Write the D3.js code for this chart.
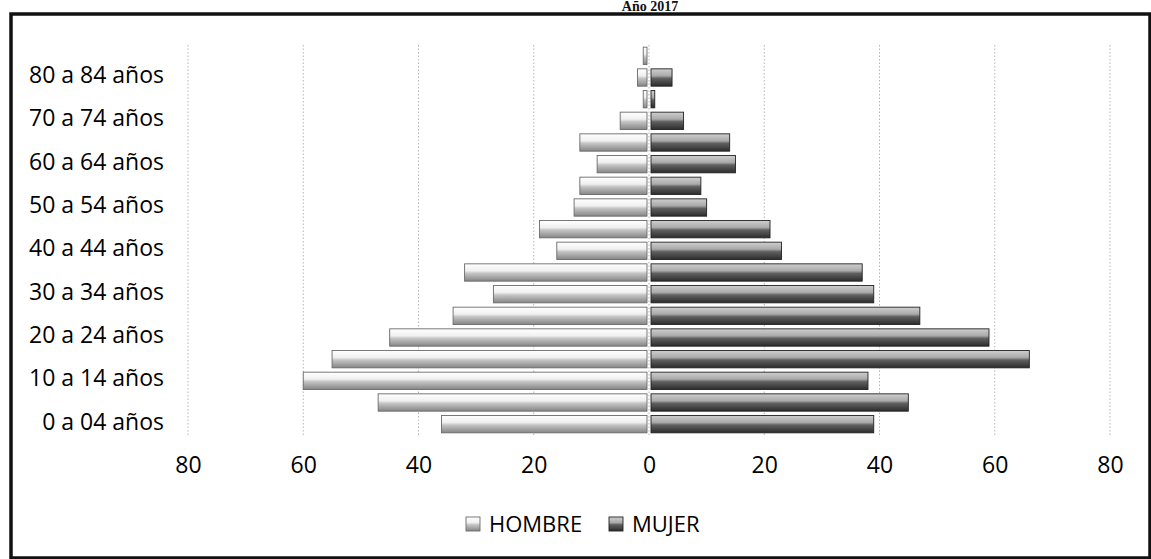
<!DOCTYPE html>
<html><head><meta charset="utf-8">
<script src="https://cdn.jsdelivr.net/npm/d3@7"></script>
<style>body{margin:0;background:#fff}svg{display:block}</style>
</head><body>
<svg id="c" width="1151" height="559"></svg>
<script>
const title = "Año 2017";
const categories = ["0 a 04 años","05 a 09 años","10 a 14 años","15 a 19 años","20 a 24 años","25 a 29 años","30 a 34 años","35 a 39 años","40 a 44 años","45 a 49 años","50 a 54 años","55 a 59 años","60 a 64 años","65 a 69 años","70 a 74 años","75 a 79 años","80 a 84 años","85 a más años"];
const shownLabels = ["0 a 04 años","10 a 14 años","20 a 24 años","30 a 34 años","40 a 44 años","50 a 54 años","60 a 64 años","70 a 74 años","80 a 84 años"];
const hombre = [36,47,60,55,45,34,27,32,16,19,13,12,9,12,5,1,2,1];
const mujer  = [39,45,38,66,59,47,39,37,23,21,10,9,15,14,6,1,4,0];
const ticks = [-80,-60,-40,-20,0,20,40,60,80];
const seriesNames = ["HOMBRE","MUJER"];

const svg = d3.select("#c");
const defs = svg.append("defs");
function grad(id, stops){
  const g = defs.append("linearGradient").attr("id",id).attr("x1",0).attr("y1",0).attr("x2",0).attr("y2",1);
  stops.forEach(s=>g.append("stop").attr("offset",s[0]).attr("stop-color",s[1]));
}
grad("gH",[[0,"#ffffff"],[0.4,"#f0f0f0"],[0.55,"#c4c4c4"],[1,"#858585"]]);
grad("gM",[[0,"#cfcfcf"],[0.4,"#aaaaaa"],[0.55,"#606060"],[1,"#2c2c2c"]]);

// frame
svg.append("rect").attr("x",11).attr("y",14).attr("width",1139).attr("height",544)
  .attr("fill","none").attr("stroke","#111").attr("stroke-width",3.5);
svg.append("text").attr("x",650).attr("y",11).attr("text-anchor","middle")
  .attr("font-family","Liberation Serif, serif").attr("font-weight","bold").attr("font-size",14)
  .attr("fill","#111").text(title);

const x = d3.scaleLinear().domain([-80,80]).range([188,1110]);
const y = d3.scaleBand().domain(categories).range([435,45]).paddingInner(0.2).paddingOuter(0.1);

// gridlines
svg.append("g").selectAll("line").data(ticks).join("line")
  .attr("x1",d=>x(d)).attr("x2",d=>x(d)).attr("y1",45).attr("y2",437)
  .attr("stroke","#b5b5b5").attr("stroke-width",1).attr("stroke-dasharray","1.5,2");

// bars
const bh = y.bandwidth();
svg.append("g").selectAll("rect").data(categories).join("rect")
  .attr("x",(d,i)=>x(-hombre[i])).attr("y",d=>y(d))
  .attr("width",(d,i)=>Math.max(0,x(0)-2-x(-hombre[i]))).attr("height",bh)
  .attr("fill","url(#gH)").attr("stroke","#6a6a6a").attr("stroke-width",0.9);
svg.append("g").selectAll("rect").data(categories).join("rect")
  .attr("x",x(0)+2).attr("y",d=>y(d))
  .attr("width",(d,i)=>Math.max(0,x(mujer[i])-x(0)-2)).attr("height",bh)
  .attr("fill","url(#gM)").attr("stroke","#222").attr("stroke-width",0.9)
  .attr("display",(d,i)=>mujer[i]>0?null:"none");

// y axis labels
const yAxis = d3.axisLeft(y).tickSize(0).tickPadding(0)
  .tickFormat(d=>shownLabels.includes(d)?d:"");
const ga = svg.append("g").attr("transform","translate(164,-2)").call(yAxis);
ga.select(".domain").remove();
ga.selectAll("text").attr("font-family","Open Sans, sans-serif").attr("font-size",23).attr("fill","#000");

// x axis labels
const xAxis = d3.axisBottom(x).tickValues(ticks).tickSize(0).tickPadding(0).tickFormat(d=>Math.abs(d));
const gx = svg.append("g").attr("transform","translate(0,473)").call(xAxis);
gx.select(".domain").remove();
gx.selectAll("text").attr("y",0).attr("dy",0).attr("font-family","Open Sans, sans-serif").attr("font-size",23).attr("fill","#000");

// legend
const leg = svg.append("g");
const lx = [466, 609];
seriesNames.forEach((n,i)=>{
  leg.append("rect").attr("x",lx[i]).attr("y",517).attr("width",14).attr("height",14)
    .attr("fill",i?"url(#gM)":"url(#gH)").attr("stroke",i?"#222":"#6a6a6a").attr("stroke-width",0.9);
  leg.append("text").attr("x",lx[i]+ (i?23:23)).attr("y",532).attr("font-family","Open Sans, sans-serif")
    .attr("font-size",22).attr("fill","#000").text(n);
});
</script>
</body></html>
